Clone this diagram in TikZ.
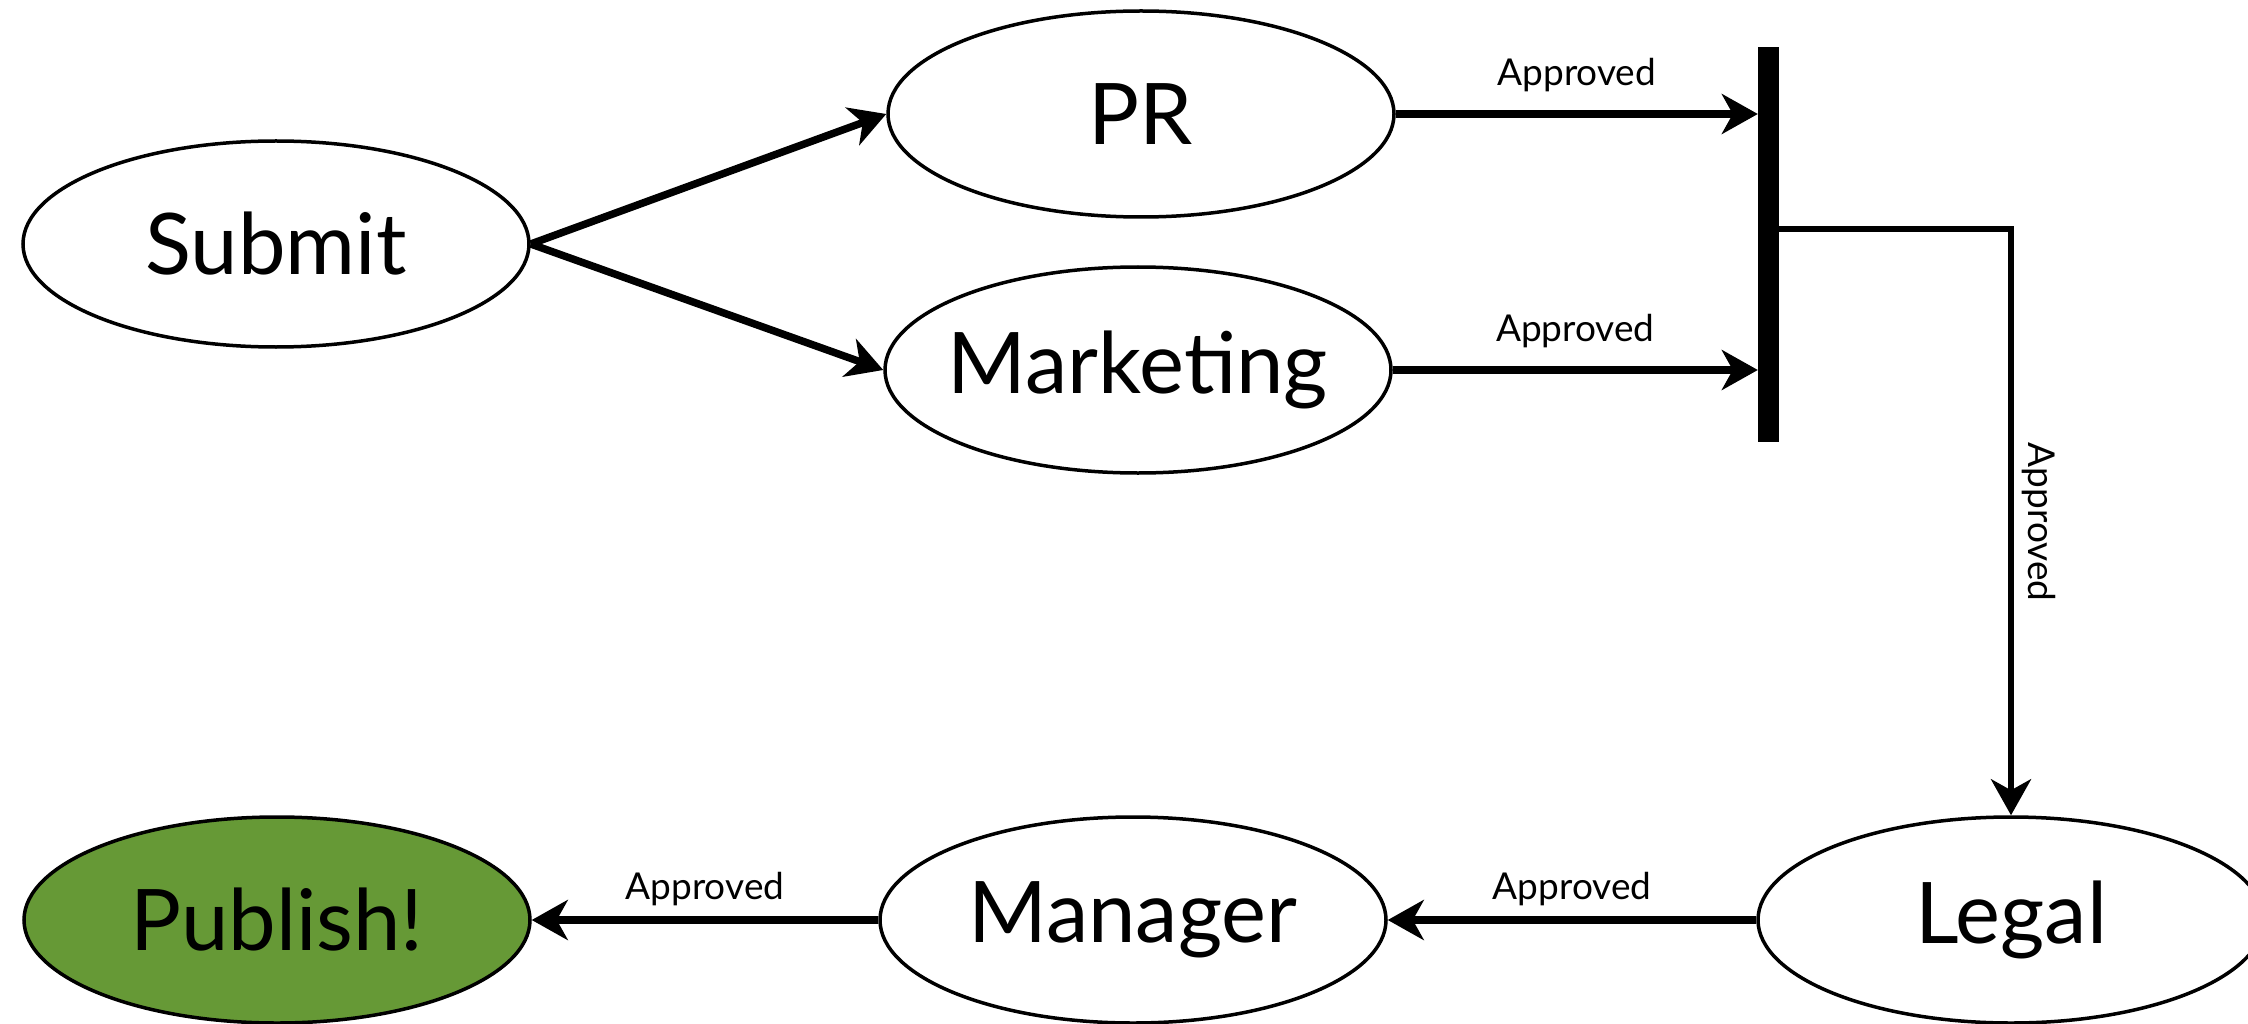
\documentclass[tikz,border=0pt]{standalone}
\usepackage{fontspec}
\setmainfont{Lato}
\usetikzlibrary{shapes.geometric,arrows.meta}
\definecolor{pubgreen}{RGB}{102,153,54}
\begin{document}
\begin{tikzpicture}[x=1pt,y=-1pt,
  state/.style={ellipse,draw=black,line width=3.5pt,minimum width=506pt,minimum height=206pt,inner sep=0pt,font=\fontsize{85}{88}\selectfont},
  tip/.style={-{Stealth[length=36pt,width=40pt,inset=11pt]}},
  flow/.style={line width=7.5pt,tip},
  lbl/.style={font=\fontsize{37}{40}\selectfont,inner sep=0pt}]
\useasboundingbox (0,0) rectangle (2248,1024);
\node[state] (submit) at (276,244) {\makebox[0pt]{Submit}};
\node[state] (pr) at (1141,114) {\makebox[0pt]{PR}};
\node[state] (mkt) at (1138,370) {\makebox[0pt]{Marketing}};
\node[state,fill=pubgreen] (pub) at (277,920) {\makebox[0pt]{Publish!}};
\node[state] (mgr) at (1133,920) {\makebox[0pt]{Manager}};
\node[state] (legal) at (2011,920) {\makebox[0pt]{Legal}};
\node[fill=black,inner sep=0pt,minimum width=21pt,minimum height=395pt] (bar) at (1768.5,244.5) {};
\coordinate (corner) at (2011,229);
\draw[flow] (submit.east) -- (pr.west);
\draw[flow] (submit.east) -- (mkt.west);
\draw[flow] (pr.east) -- (pr.east -| bar.west) node[lbl,midway,above=18pt] {Approved};
\draw[flow] (mkt.east) -- (mkt.east -| bar.west) node[lbl,midway,above=18pt] {Approved};
\draw[line width=6pt,tip] (bar.east |- corner) -- (corner) -- (legal.north)
  node[lbl,midway,right=8pt,rotate=-90,anchor=south] {Approved};
\draw[flow] (legal.west) -- (mgr.east) node[lbl,midway,above=10pt] {Approved};
\draw[flow] (mgr.west) -- (pub.east) node[lbl,midway,above=10pt] {Approved};
\end{tikzpicture}
\end{document}
